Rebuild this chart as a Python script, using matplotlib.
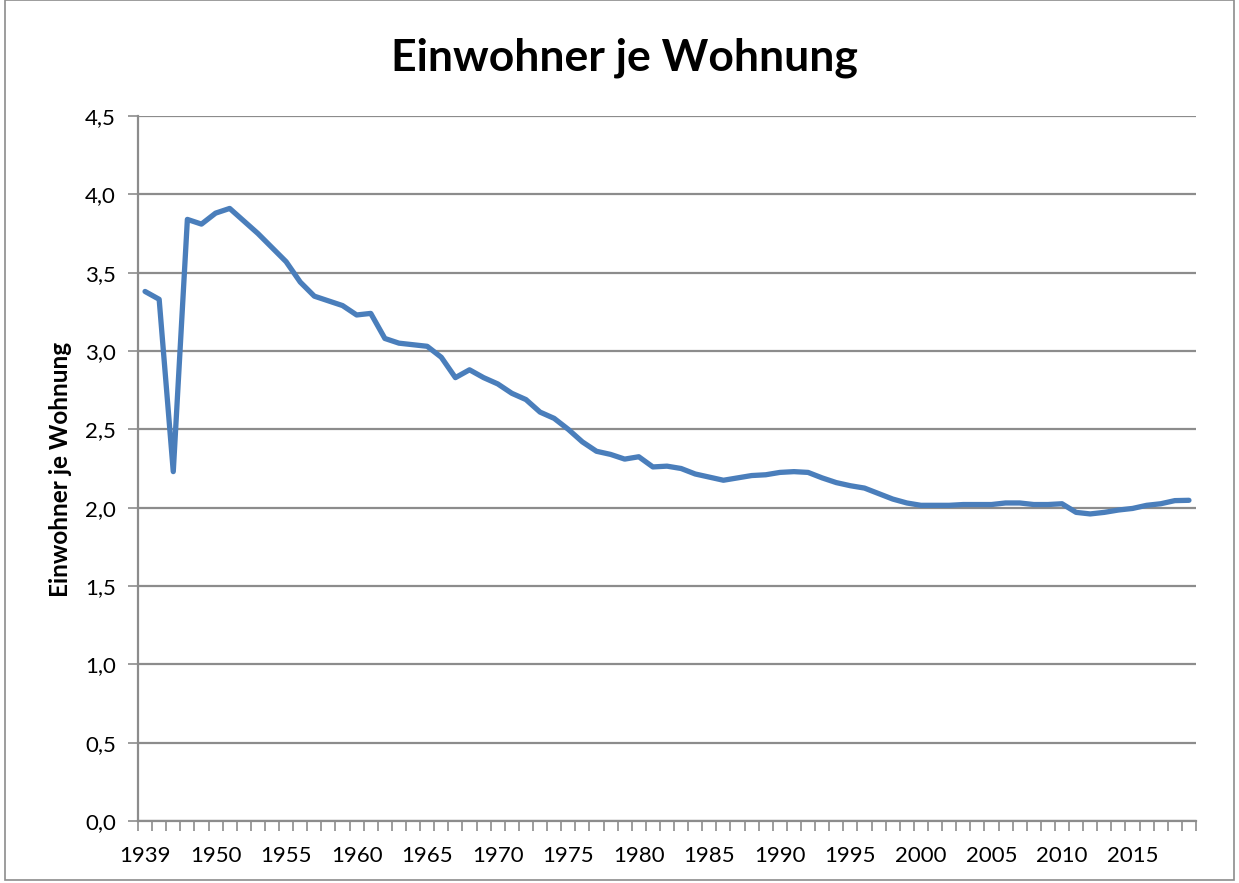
#!/usr/bin/env python3

"""
Einwohner je Wohnung - line chart recreation.
"""

import numpy as np
import matplotlib
matplotlib.use('Agg')
import matplotlib.pyplot as plt
from matplotlib.patches import Rectangle

# categories: 1939, four post-war years, then 1950..2019
years = [1939, 1946, 1947, 1948, 1949] + list(range(1950, 2020))

einwohner_je_wohnung = [
    3.38, 3.33, 2.23, 3.84, 3.81, 3.88, 3.91, 3.83, 3.75, 3.66,
    3.57, 3.44, 3.35, 3.32, 3.29, 3.23, 3.24, 3.08, 3.05, 3.04,
    3.03, 2.96, 2.83, 2.88, 2.83, 2.79, 2.73, 2.69, 2.61, 2.57,
    2.50, 2.42, 2.36, 2.34, 2.31, 2.325, 2.26, 2.265, 2.25, 2.215,
    2.195, 2.175, 2.19, 2.205, 2.21, 2.225, 2.23, 2.225, 2.19, 2.16,
    2.14, 2.125, 2.09, 2.055, 2.03, 2.015, 2.015, 2.015, 2.02, 2.02,
    2.02, 2.03, 2.03, 2.02, 2.02, 2.025, 1.97, 1.96, 1.97, 1.985,
    1.995, 2.015, 2.025, 2.045, 2.047,
]

y_ticks = np.arange(0, 4.51, 0.5)
label_every = 5

W, H = 1239, 883
fig = plt.figure(figsize=(W / 100, H / 100), dpi=100)
plt.rcParams['font.family'] = ['Lato', 'DejaVu Sans']

# outer chart border
fig.patches.append(Rectangle((5 / W, 3 / H), (W - 10) / W, (H - 3) / H,
                             transform=fig.transFigure, fill=False,
                             edgecolor='#8c8c8c', linewidth=1.2))

ax = fig.add_axes([138 / W, 1 - 821 / H, 1058 / W, 705 / H])

x = np.arange(len(years))
ax.plot(x, einwohner_je_wohnung, color='#4a7ebb', linewidth=3.8,
        solid_joinstyle='round', solid_capstyle='round', zorder=3)

ax.set_xlim(-0.5, len(years) - 0.5)
ax.set_ylim(0, 4.5)

# category boundaries as tick marks, labels at every 5th category
ax.set_xticks(np.arange(-0.5, len(years), 1))
ax.set_xticklabels([])
ax.set_xticks(x[::label_every], minor=True)
ax.set_xticklabels([str(y) for y in years[::label_every]], minor=True)
ax.tick_params(axis='x', which='major', direction='out', length=7,
               width=1.2, color='#8c8c8c')
ax.tick_params(axis='x', which='minor', length=0, pad=18, labelsize=16)

ax.set_yticks(y_ticks)
ax.set_yticklabels([f'{v:.1f}'.replace('.', ',') for v in y_ticks])
ax.tick_params(axis='y', direction='out', length=7, width=1.2,
               color='#8c8c8c', pad=9, labelsize=16)

ax.grid(axis='y', color='#8c8c8c', linewidth=1.6)
ax.set_axisbelow(True)
for side in ['top', 'right']:
    ax.spines[side].set_visible(False)
for side in ['left', 'bottom']:
    ax.spines[side].set_color('#8c8c8c')
    ax.spines[side].set_linewidth(1.6)

fig.text(624 / W, 1 - 58 / H, 'Einwohner je Wohnung', ha='center',
         va='center', fontsize=32, fontweight='bold')
fig.text(60 / W, 1 - 469 / H, 'Einwohner je Wohnung', ha='center',
         va='center', rotation=90, fontsize=17.5, fontweight='bold')

fig.savefig('out.png', dpi=100)
